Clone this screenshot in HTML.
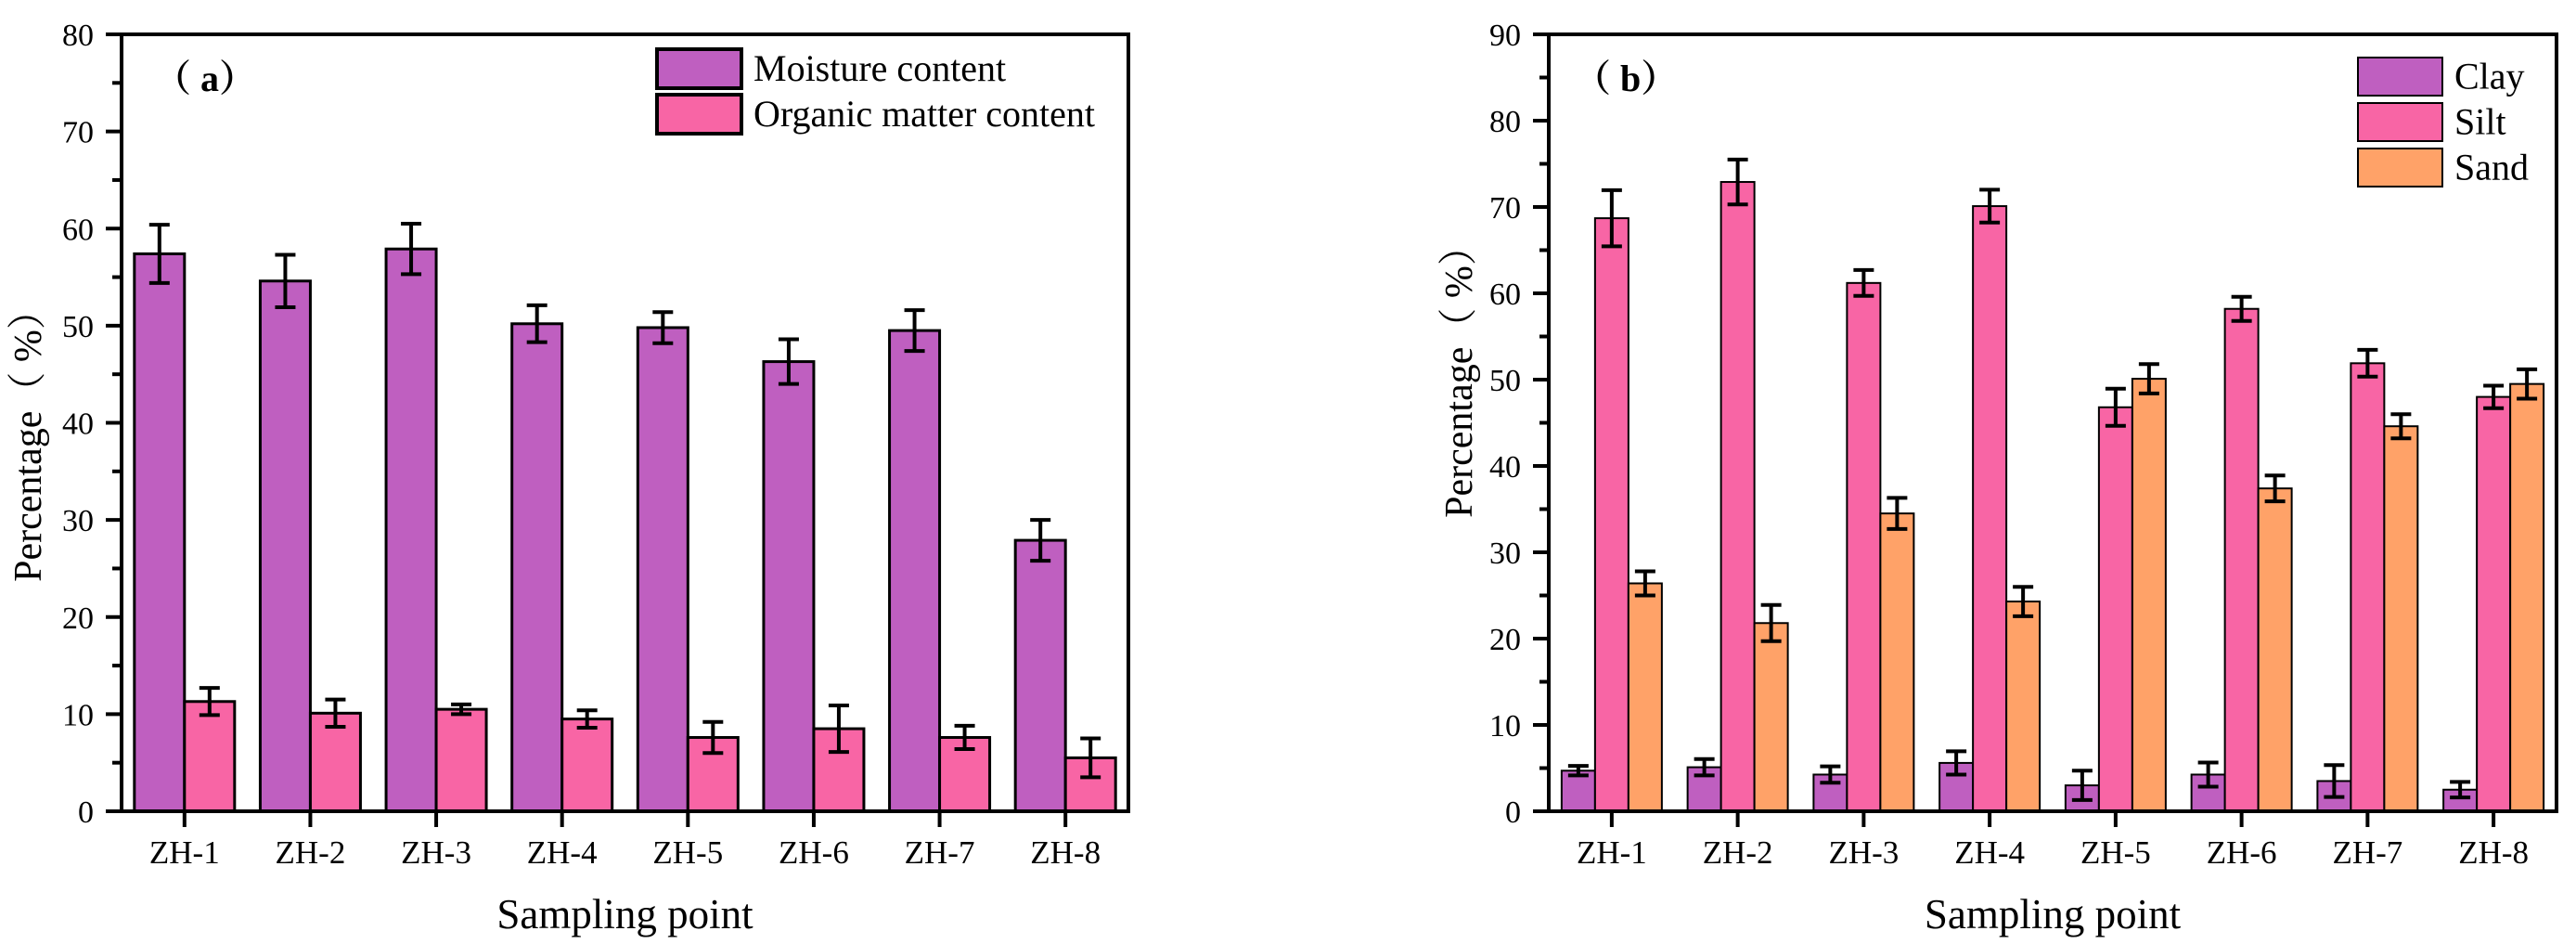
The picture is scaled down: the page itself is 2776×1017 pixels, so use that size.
<!DOCTYPE html>
<html><head><meta charset="utf-8"><style>
html,body{margin:0;padding:0;background:#fff;}
svg{display:block;font-family:"Liberation Serif","Noto Serif CJK SC",serif;}
</style></head><body>
<svg id="chart" width="2776" height="1017" viewBox="0 0 2776 1017" xmlns="http://www.w3.org/2000/svg"></svg>
<script>
const categories = ["ZH-1","ZH-2","ZH-3","ZH-4","ZH-5","ZH-6","ZH-7","ZH-8"];
const moisture = [57.4,54.6,57.9,50.2,49.8,46.3,49.5,27.9];
const moistureErr = [3.0,2.7,2.6,1.9,1.6,2.3,2.1,2.1];
const organic = [11.3,10.1,10.5,9.5,7.6,8.5,7.6,5.5];
const organicErr = [1.4,1.4,0.5,0.9,1.6,2.4,1.2,2.0];
const clay = [4.7,5.1,4.25,5.6,3.0,4.25,3.5,2.5];
const clayErr = [0.55,0.95,0.95,1.35,1.7,1.4,1.85,0.9];
const silt = [68.7,72.9,61.2,70.1,46.8,58.2,51.9,48.0];
const siltErr = [3.25,2.6,1.5,1.9,2.15,1.4,1.55,1.3];
const sand = [26.4,21.8,34.5,24.3,50.1,37.4,44.6,49.5];
const sandErr = [1.4,2.1,1.8,1.7,1.7,1.5,1.4,1.7];
const ticksA = [0,10,20,30,40,50,60,70,80];
const ticksB = [0,10,20,30,40,50,60,70,80,90];

const NS="http://www.w3.org/2000/svg";
const svg=document.getElementById('chart');
function mk(tag,attrs,parent,text){const e=document.createElementNS(NS,tag);for(const k in attrs)e.setAttribute(k,attrs[k]);if(text!==undefined)e.textContent=text;(parent||svg).appendChild(e);return e;}

function panel(cfg){
  const g=mk('g',{});
  
  
  const L=cfg.left,R=cfg.right,T=37,B=874,max=cfg.max;
  const y=v=>B-(v/max)*(B-T);
  const gw=(R-L)/categories.length;
  const xc=i=>L+gw*(i+0.5);
  const bw=108/cfg.series.length;
  // bars
  cfg.series.forEach((s,si)=>{
    s.vals.forEach((v,i)=>{
      const x0=xc(i)-54+si*bw;
      const r=mk('rect',{x:x0,y:y(v),width:bw,height:B-y(v),fill:s.color,stroke:'#000','stroke-width':cfg.sw},g);
      
      
    });
  });
  cfg.series.forEach((s,si)=>{
    s.vals.forEach((v,i)=>{
      const cx=xc(i)-54+si*bw+bw/2;
      const e=s.err[i];
      const eg=mk('g',{stroke:'#000','stroke-width':4},g);
      
      
      mk('line',{x1:cx,x2:cx,y1:y(v+e),y2:y(v-e)},eg);
      mk('line',{x1:cx-11,x2:cx+11,y1:y(v+e),y2:y(v+e)},eg);
      mk('line',{x1:cx-11,x2:cx+11,y1:y(v-e),y2:y(v-e)},eg);
    });
  });
  // frame
  const fr=mk('rect',{x:L,y:T,width:R-L,height:B-T,fill:'none',stroke:'#000','stroke-width':4},g);
  
  
  // y ticks
  cfg.ticks.forEach((t,k)=>{
    mk('line',{x1:L-17,x2:L,y1:y(t),y2:y(t),stroke:'#000','stroke-width':4},g);
    if(k<cfg.ticks.length-1){const m=(t+cfg.ticks[k+1])/2;mk('line',{x1:L-10,x2:L,y1:y(m),y2:y(m),stroke:'#000','stroke-width':4},g);}
    const tl=mk('text',{x:L-30,y:y(t)+12,'text-anchor':'end','font-size':34},g,String(t));
    
    
  });
  categories.forEach((c,i)=>{
    mk('line',{x1:xc(i),x2:xc(i),y1:B,y2:B+17,stroke:'#000','stroke-width':4},g);
    const tl=mk('text',{x:xc(i),y:930,'text-anchor':'middle','font-size':35},g,c);
    
    
  });
  const xt=mk('text',{x:(L+R)/2,y:1000,'text-anchor':'middle','font-size':45},g,'Sampling point');
  
  
  const yt=mk('text',{x:0,y:0,'text-anchor':'middle','font-size':42,transform:`translate(${cfg.ytx},${cfg.yty}) rotate(-90)`},g,'Percentage（ %）');
  
  
  const pl=mk('text',{x:cfg.plx,y:98,'font-size':40,'font-weight':'bold'},g,cfg.label);
  
  
  // legend
  cfg.series.forEach((s,si)=>{
    const lg=mk('g',{},g);
    
    
    const ly=cfg.legY+si*cfg.legStep;
    mk('rect',{x:cfg.legX,y:ly,width:91,height:cfg.legH,fill:s.color,stroke:'#000','stroke-width':cfg.legSw},lg);
    mk('text',{x:cfg.legX+104,y:ly+cfg.legH/2+13,'font-size':40},lg,s.label);
  });
}
panel({name:'panel-a',left:131,right:1216,max:80,ticks:ticksA,sw:3,ytx:44,yty:470,plx:166,label:'（ a）',
  legX:708,legY:53,legStep:49,legH:42,legSw:4,
  series:[{key:'moisture',label:'Moisture content',vals:moisture,err:moistureErr,color:'#bf5fc0'},
          {key:'organic',label:'Organic matter content',vals:organic,err:organicErr,color:'#f865a5'}]});
panel({name:'panel-b',left:1669,right:2755,max:90,ticks:ticksB,sw:2,ytx:1586,yty:401,plx:1696,label:'（ b）',
  legX:2541,legY:62,legStep:49,legH:41,legSw:2,
  series:[{key:'clay',label:'Clay',vals:clay,err:clayErr,color:'#bf5fc0'},
          {key:'silt',label:'Silt',vals:silt,err:siltErr,color:'#f865a5'},
          {key:'sand',label:'Sand',vals:sand,err:sandErr,color:'#ffa268'}]});
</script>
</body></html>
